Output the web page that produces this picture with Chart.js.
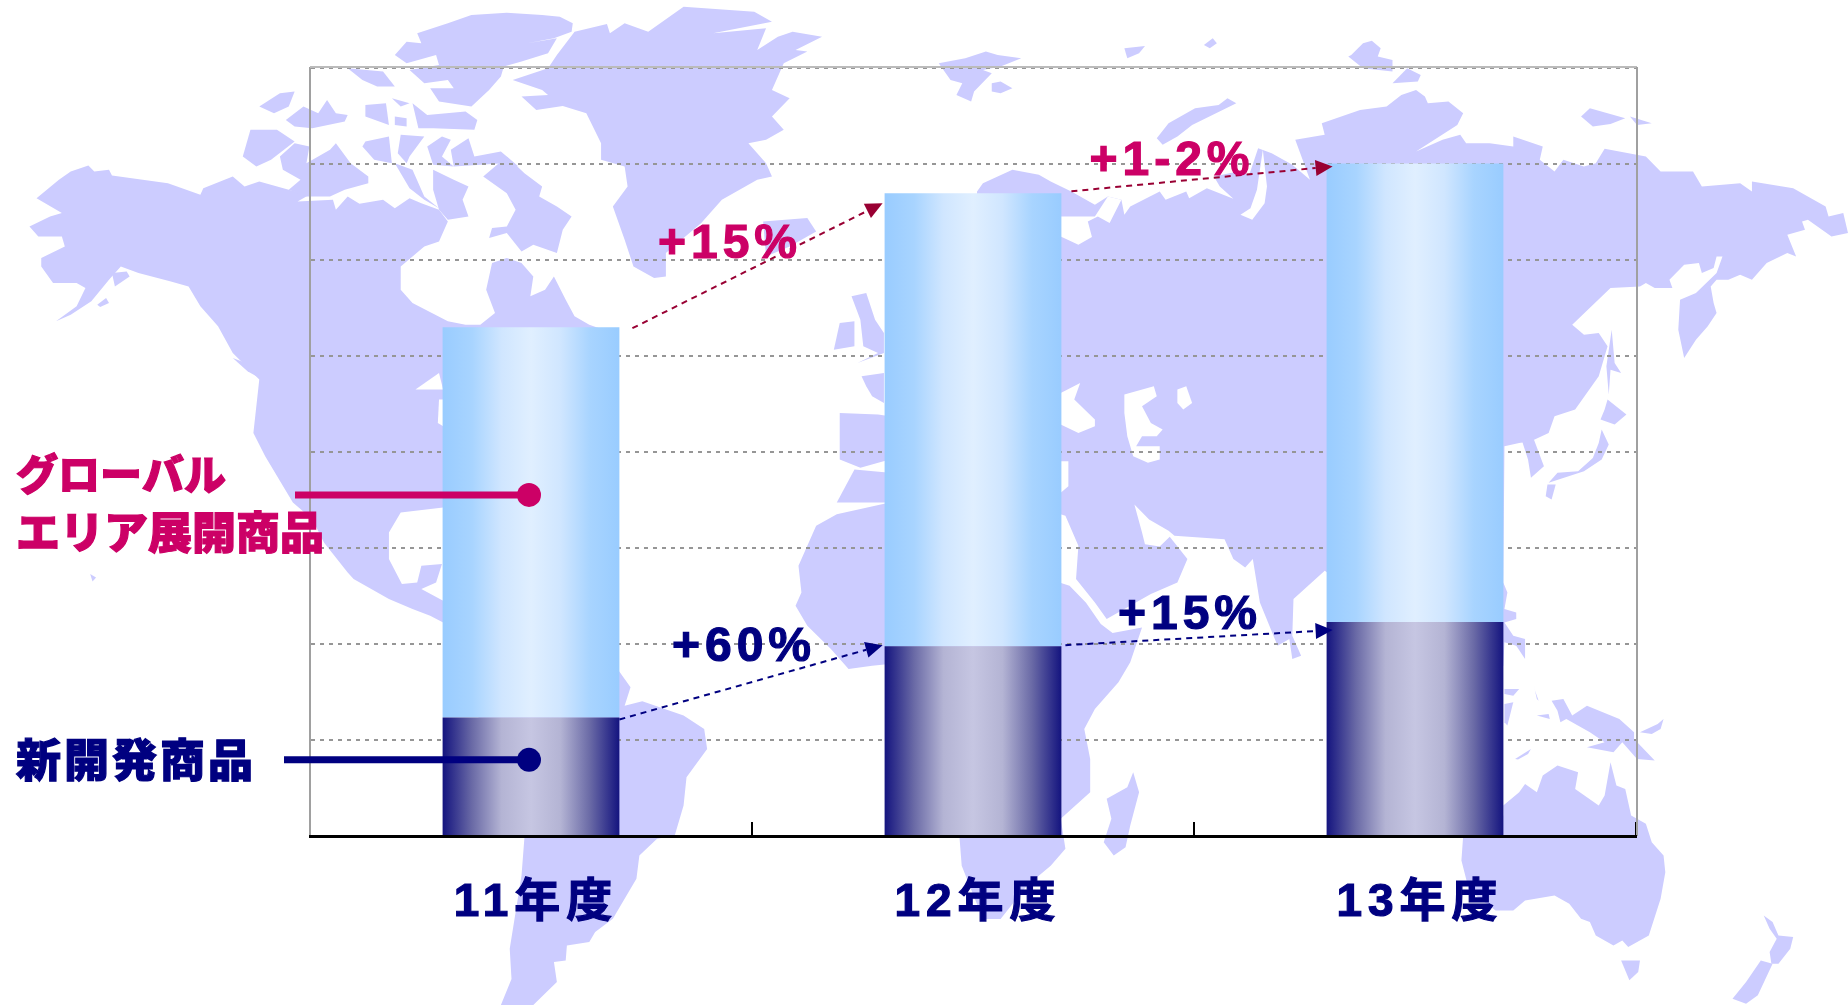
<!DOCTYPE html>
<html>
<head>
<meta charset="utf-8">
<script src="https://cdn.jsdelivr.net/npm/chart.js@4"></script>
<style>
html, body { margin: 0; padding: 0; background: #fff; }
canvas { display: block; }
</style>
</head>
<body>
<canvas id="chart" width="1848" height="1005"></canvas>
<script>
var categories = ["11年度", "12年度", "13年度"];
var newProducts = [126, 200, 225];
var globalProducts = [405, 470, 476];
var gridMin = 3;
var gridMax = 800;
var gridStep = 100;
var calloutValues = [357, 82];
var calloutLabels = [["グローバル", "エリア展開商品"], ["新開発商品"]];
var globalGrowth = ["+15%", "+1-2%"];
var newGrowth = ["+60%", "+15%"];

// world map backdrop, traced in a 3136x3018 grid that is stretched onto the page
var land = [
  // north america
  [62,595,100,540,120,515,150,497,160,515,185,510,190,527,285,550,340,585,345,565,395,530,415,560,440,545,490,570,525,585,505,605,565,600,570,630,590,590,610,612,650,600,670,625,695,595,715,610,745,630,760,665,745,725,720,740,680,800,680,870,700,910,760,965,790,975,815,975,840,940,825,870,835,790,860,775,885,790,905,830,900,890,925,870,940,830,960,900,975,950,1000,975,1040,1000,1040,1300,900,1400,752,1524,680,1539,660,1599,660,1679,682,1754,708,1749,715,1699,750,1694,740,1749,715,1769,752,1804,752,1869,730,1849,700,1829,660,1799,600,1739,590,1719,550,1630,530,1559,497,1509,450,1370,430,1300,440,1140,395,1060,370,980,340,920,320,860,290,845,235,820,205,800,185,840,155,905,120,945,95,965,130,920,145,865,130,850,90,850,70,800,70,775,110,740,105,710,65,710,50,680,85,650,105,640],
  // arctic islands
  [425,390,470,390,500,425,460,480,435,500,412,470],
  [475,470,500,430,525,440,520,490,560,450,570,430,595,490,625,530,625,550,585,570,560,590,520,590,490,570,510,540,480,510],
  [620,425,660,410,665,490,635,480,615,440],
  [680,405,720,410,695,470,690,490,675,460],
  [725,440,750,410,765,420,750,470,770,500,735,495],
  [765,450,795,415,805,470,850,455,880,500,855,490,770,500],
  [670,490,700,510,720,590,745,625,720,600,695,565],
  [735,510,770,540,795,560,785,600,795,650,760,660,745,630,735,570],
  [820,530,860,470,890,520,920,560,915,590,945,620,970,650,955,690,945,760,905,735,885,755,860,700,830,715,835,685,860,680,875,630,860,580],
  [670,165,690,125,715,130,708,100,760,70,800,45,860,38,920,45,950,50,972,70,970,95,940,115,895,130,945,115,930,160,885,185,855,200,850,230,830,270,800,320,745,305,730,265,770,265,760,240,720,250,695,210,745,195,740,165,690,190],
  [590,205,650,215,670,260,640,260,615,240],
  [620,315,655,310,660,375,620,350],
  [665,295,695,310,680,320],
  [700,310,725,345,790,335,810,360,805,390,735,385,710,385],
  [670,350,690,355,690,380,670,375],
  [515,320,540,340,555,300,570,340,590,345,585,365,530,385,500,380,485,360],
  [440,320,475,280,500,275,490,320,465,340],
  [165,915,180,895,185,910,170,922],
  [395,1075,425,1095,445,1140,420,1115],
  [190,820,215,815,220,830,195,860],
  [153,1724,163,1734,157,1746],
  // greenland, iceland, britain, ireland
  [870,240,930,205,945,165,975,95,1030,72,1035,100,1060,70,1100,95,1160,20,1280,35,1310,65,1210,100,1300,85,1285,150,1320,110,1345,95,1395,110,1350,150,1370,155,1330,190,1310,270,1340,295,1310,350,1330,390,1300,420,1270,430,1300,490,1310,530,1285,540,1225,600,1190,670,1130,760,1130,830,1110,835,1075,800,1060,720,1040,620,1065,560,1060,500,1020,480,1020,430,995,340,955,318,910,330,885,290,930,285,920,270],
  [1295,665,1370,655,1385,695,1340,740,1300,770],
  [1445,890,1470,880,1485,960,1500,1000,1500,1060,1455,1090,1490,1060,1465,1040,1460,960],
  [1425,970,1450,965,1450,1040,1415,1050],
  // europe left of the middle bar
  [1462,1130,1500,1120,1500,1210,1480,1190,1470,1160],
  [1425,1240,1490,1245,1510,1250,1510,1380,1460,1405,1425,1380],
  [1450,1410,1510,1420,1510,1509,1420,1509],
  // eurasia
  [1658,575,1668,550,1718,510,1763,525,1783,545,1818,575,1858,615,1880,590,1903,600,1908,645,1918,620,1968,575,1978,600,2013,575,2018,595,2048,565,2093,597,2070,560,2060,530,2100,515,2120,525,2135,445,2158,460,2193,495,2223,540,2198,420,2248,405,2243,370,2308,330,2353,320,2378,285,2403,270,2418,290,2423,310,2458,305,2483,340,2473,375,2403,455,2448,420,2478,405,2488,430,2528,430,2568,440,2568,410,2618,440,2613,480,2638,515,2653,480,2688,500,2708,490,2723,447,2793,470,2818,515,2873,515,2888,560,2953,550,2973,575,2973,545,3043,565,3098,620,3103,650,3128,640,3136,700,3108,710,3068,660,3058,665,3063,690,3033,705,3048,770,3033,760,2998,790,2973,840,2953,825,2933,840,2913,840,2903,860,2908,910,2913,940,2898,980,2878,1020,2858,1075,2848,990,2851,900,2878,880,2913,820,2923,770,2913,770,2908,805,2888,820,2883,790,2858,795,2833,840,2838,865,2808,865,2793,850,2783,860,2733,865,2668,975,2688,1005,2713,1000,2728,1040,2713,1130,2673,1230,2638,1250,2628,1300,2598,1325,2578,1330,2553,1340,2551,1749,2558,1779,2553,1829,2573,1839,2573,1859,2553,1869,2568,1909,2588,1919,2588,1979,2573,1939,2553,1929,2551,2000,2400,1900,2248,1714,2195,1799,2193,1909,2208,1969,2193,1979,2188,1919,2168,1939,2138,1809,2126,1679,2113,1704,2093,1679,2078,1619,1993,1609,1983,1594,1950,1560,1925,1515,1938,1599,1943,1634,1968,1641,1985,1612,2015,1679,1998,1749,1953,1784,1878,1859,1858,1809,1826,1739,1830,1639,1808,1549,1790,1539,1700,1300,1700,800,1658,600],
  // africa
  [1510,1509,1420,1544,1385,1579,1355,1699,1360,1779,1350,1819,1370,1879,1410,1949,1440,2009,1480,1999,1530,1990,1628,2509,1632,2600,1668,2760,1698,2760,1743,2659,1783,2600,1808,2549,1800,2459,1850,2379,1850,2279,1840,2189,1858,2129,1898,2049,1918,1989,1938,1884,1888,1901,1868,1874,1843,1810,1815,1759,1790,1745,1790,1509],
  [1923,2319,1933,2379,1918,2479,1910,2544,1890,2569,1873,2529,1886,2459,1878,2399,1913,2364],
  // south america
  [1050,2014,1070,2064,1060,2119,1090,2106,1160,2149,1195,2189,1200,2249,1165,2334,1160,2419,1145,2509,1115,2519,1085,2569,1080,2639,1040,2759,1010,2799,1000,2829,962,2839,960,2884,940,2889,945,2949,905,3018,850,3018,868,2940,865,2849,885,2629,890,2514,800,2100,1000,2000],
  // arctic russia
  [1983,370,2028,325,2068,315,2083,295,2098,310,2023,375,1998,410,1973,435,1963,415],
  [1593,190,1638,175,1673,155,1693,165,1733,175,1698,200,1668,210,1683,220,1653,275,1648,305,1623,285,1633,250,1613,240],
  [1683,250,1698,245,1718,265,1698,280,1683,275],
  [1908,145,1943,138,1933,160,1913,175],
  [2043,135,2058,115,2065,130,2053,145],
  [2293,165,2313,130,2328,122,2343,145,2338,170,2363,180,2363,215,2313,205,2288,170],
  [2363,250,2388,205,2411,225,2406,245],
  [2683,350,2698,325,2758,355,2733,372,2703,380],
  [2766,350,2803,370,2778,375],
  // far east
  [2735,990,2740,1090,2751,1120,2733,1110,2730,1185,2726,1100],
  [2728,1200,2760,1245,2740,1275,2716,1260,2723,1230],
  [2718,1290,2730,1335,2718,1380,2688,1415,2628,1450,2643,1420,2678,1415,2703,1375,2713,1330],
  [2626,1455,2640,1455,2633,1500,2623,1490],
  [2583,1325,2603,1320,2620,1400,2598,1435,2593,1380],
  // south east asia and oceania
  [2553,2069,2578,2069,2568,2089,2553,2084],
  [2603,2059,2608,2099,2611,2104,2605,2074],
  [2553,2114,2568,2109,2558,2179,2553,2169],
  [2633,2104,2653,2099,2668,2149,2693,2119,2748,2159,2773,2199,2773,2219,2808,2284,2778,2279,2753,2229,2738,2259,2693,2244,2723,2229,2698,2199,2658,2159,2648,2169,2643,2134],
  [2608,2149,2628,2144,2630,2159],
  [2571,2279,2598,2249,2593,2264,2576,2281],
  [2783,2199,2813,2174,2823,2159,2818,2189,2803,2204],
  // australia, tasmania, new zealand
  [2551,2419,2578,2379,2588,2354,2608,2379,2618,2329,2643,2299,2678,2319,2673,2369,2713,2419,2723,2389,2733,2289,2743,2359,2758,2369,2768,2449,2793,2474,2803,2529,2823,2569,2826,2619,2818,2699,2798,2809,2763,2844,2753,2824,2738,2839,2708,2809,2698,2769,2683,2759,2663,2714,2638,2689,2588,2704,2568,2734,2538,2734,2493,2674,2480,2584,2483,2509,2551,2449],
  [2751,2884,2783,2884,2780,2919,2765,2944],
  [2993,2749,3008,2769,3018,2809,3043,2814,3038,2849,3018,2894,3006,2894,3003,2859,3015,2819,3003,2789],
  [2988,2884,3008,2894,2983,2989,2963,3014,2940,2999,2963,2949]
];
var water = [
  [705,1170,745,1120,752,1170],
  [745,1200,752,1200,752,1280,743,1270],
  [1800,1180,1833,1150,1823,1200,1858,1260,1858,1280,1830,1300,1800,1275],
  [1908,1185,1958,1160,1963,1190,1938,1220,1953,1270,1973,1290,1963,1310,1938,1310,1928,1340,1968,1340,1968,1380,1948,1390,1923,1370,1913,1310,1908,1240],
  [1998,1170,2013,1160,2023,1210,2008,1230,1998,1210],
  [1800,1385,1813,1385,1813,1460,1800,1480],
  [1800,650,1858,650,1880,590,1903,600,1883,670,1863,650,1846,665,1853,712,1830,735,1800,710],
  [2143,450,2150,560,2146,610,2125,660,2105,645,2122,625,2133,570]
];

var baseFont = '"Liberation Sans", "Noto Sans CJK JP", sans-serif';
var navy = "#000080";
var pink = "#CC0066";
var darkPink = "#990033";
var navyStops = ["#14147F", "#6A6AA6", "#B4B4D4", "#C6C6E2", "#B4B4D4", "#6A6AA6", "#14147F"];
var blueStops = ["#99CCFF", "#A8D4FF", "#D0E6FF", "#E0EFFF", "#D0E6FF", "#A8D4FF", "#99CCFF"];

function fillShapes(ctx, shapes, color) {
  var sx = 1848 / 3136, sy = 1005 / 3018;
  ctx.fillStyle = color;
  shapes.forEach(function(s) {
    ctx.beginPath();
    ctx.moveTo(s[0] * sx, s[1] * sy);
    for (var i = 2; i < s.length; i += 2) ctx.lineTo(s[i] * sx, s[i + 1] * sy);
    ctx.closePath();
    ctx.fill();
  });
}

function barGradient(chart, index, stops) {
  var xs = chart.scales.x;
  if (!xs || !chart.chartArea) return stops[0];
  var half = xs.width / categories.length * 0.2;
  var mid = xs.getPixelForValue(index);
  var g = chart.ctx.createLinearGradient(mid - half, 0, mid + half, 0);
  stops.forEach(function(c, i) { g.addColorStop(i / (stops.length - 1), c); });
  return g;
}

function drawText(ctx, text, x, y, color, size, spacing, align, weight) {
  ctx.save();
  ctx.font = (weight || "bold") + " " + size + "px " + baseFont;
  ctx.letterSpacing = spacing + "px";
  ctx.fillStyle = color;
  ctx.strokeStyle = color;
  ctx.lineWidth = 1.2;
  ctx.textAlign = align;
  ctx.textBaseline = "middle";
  ctx.strokeText(text, x, y);
  ctx.fillText(text, x, y);
  ctx.restore();
}

function drawArrow(ctx, x1, y1, x2, y2, color) {
  var a = Math.atan2(y2 - y1, x2 - x1);
  var len = 17, wing = 8;
  ctx.save();
  ctx.strokeStyle = color;
  ctx.fillStyle = color;
  ctx.lineWidth = 2;
  ctx.setLineDash([6, 5]);
  ctx.beginPath();
  ctx.moveTo(x1, y1);
  ctx.lineTo(x2 - Math.cos(a) * len, y2 - Math.sin(a) * len);
  ctx.stroke();
  ctx.setLineDash([]);
  ctx.beginPath();
  ctx.moveTo(x2, y2);
  ctx.lineTo(x2 - Math.cos(a) * len - Math.sin(a) * wing, y2 - Math.sin(a) * len + Math.cos(a) * wing);
  ctx.lineTo(x2 - Math.cos(a) * len + Math.sin(a) * wing, y2 - Math.sin(a) * len - Math.cos(a) * wing);
  ctx.closePath();
  ctx.fill();
  ctx.restore();
}

var mapPlugin = {
  id: "worldMap",
  beforeDraw: function(chart) {
    fillShapes(chart.ctx, land, "#CCCCFF");
    fillShapes(chart.ctx, water, "#FFFFFF");
    chart.ctx.letterSpacing = "6px";
  }
};

var notesPlugin = {
  id: "notes",
  beforeDatasetsDraw: function(chart) {
    var ctx = chart.ctx, a = chart.chartArea;
    ctx.letterSpacing = "0px";
    ctx.save();
    ctx.strokeStyle = "#BBBBBB";
    ctx.lineWidth = 2;
    ctx.beginPath();
    ctx.moveTo(a.left, a.top - 1);
    ctx.lineTo(a.right + 1, a.top - 1);
    ctx.stroke();
    ctx.strokeStyle = "#A0A0A0";
    ctx.beginPath();
    ctx.moveTo(a.right + 1, a.top - 1);
    ctx.lineTo(a.right + 1, a.bottom);
    ctx.stroke();
    ctx.restore();
  },
  afterDatasetsDraw: function(chart) {
    var ctx = chart.ctx;
    var low = chart.getDatasetMeta(0).data;
    var high = chart.getDatasetMeta(1).data;
    var ys = chart.scales.y;
    var edge = function(bar, side) { return bar.x + side * bar.width / 2; };

    // growth arrows run from one bar to the next
    drawArrow(ctx, edge(high[0], 1) + 13, high[0].y + 1, edge(high[1], -1) - 2, high[1].y + 10, darkPink);
    drawArrow(ctx, edge(high[1], 1) + 10, high[1].y - 2, edge(high[2], -1) + 6, high[2].y + 3, darkPink);
    drawArrow(ctx, edge(low[0], 1), low[0].y + 2, edge(low[1], -1) - 2, low[1].y - 1, navy);
    drawArrow(ctx, edge(low[1], 1) + 4, low[1].y - 1, edge(low[2], -1) + 6, low[2].y + 8, navy);

    drawText(ctx, globalGrowth[0], 730, 245, pink, 48, 5, "center");
    drawText(ctx, globalGrowth[1], 1172, 162, pink, 48, 5, "center");
    drawText(ctx, newGrowth[0], 744, 648, navy, 48, 5, "center");
    drawText(ctx, newGrowth[1], 1190, 616, navy, 48, 5, "center");

    // callouts into the first bar
    [[295, pink], [284, navy]].forEach(function(c, i) {
      var y = ys.getPixelForValue(calloutValues[i]);
      ctx.save();
      ctx.strokeStyle = c[1];
      ctx.fillStyle = c[1];
      ctx.lineWidth = 7;
      ctx.beginPath();
      ctx.moveTo(c[0], y);
      ctx.lineTo(high[0].x, y);
      ctx.stroke();
      ctx.beginPath();
      ctx.arc(high[0].x - 2, y, 12, 0, Math.PI * 2);
      ctx.fill();
      ctx.restore();
    });

    drawText(ctx, calloutLabels[0][0], 16, 478, pink, 42, 0, "left", "900");
    drawText(ctx, calloutLabels[0][1], 16, 537, pink, 44, 0, "left", "900");
    drawText(ctx, calloutLabels[1][0], 16, 765, navy, 45, 3, "left", "900");
  }
};

var chart1 = new Chart(document.getElementById("chart"), {
  type: "bar",
  plugins: [mapPlugin, notesPlugin],
  data: {
    labels: categories,
    datasets: [
      {
        label: "新開発商品",
        data: newProducts,
        backgroundColor: function(c) { return barGradient(c.chart, c.dataIndex, navyStops); }
      },
      {
        label: "グローバルエリア展開商品",
        data: globalProducts,
        backgroundColor: function(c) { return barGradient(c.chart, c.dataIndex, blueStops); }
      }
    ]
  },
  options: {
    responsive: false,
    animation: false,
    events: [],
    devicePixelRatio: 1,
    layout: { padding: { left: 310, right: 212, top: 68, bottom: 0 } },
    datasets: { bar: { categoryPercentage: 1, barPercentage: 0.4 } },
    plugins: { legend: { display: false }, tooltip: { enabled: false } },
    scales: {
      x: {
        stacked: true,
        afterFit: function(s) { s.height = 169; },
        border: { color: "#000000", width: 3, z: 1 },
        grid: { drawOnChartArea: false, color: "#000000", lineWidth: 2, tickLength: -14, tickColor: "#000000" },
        ticks: {
          color: navy,
          padding: 54,
          autoSkip: false,
          maxRotation: 0,
          labelOffset: 5,
          textStrokeColor: navy,
          textStrokeWidth: 1.2,
          font: { family: baseFont, size: 46, weight: "bold" }
        }
      },
      y: {
        stacked: true,
        min: gridMin,
        max: gridMax,
        afterFit: function(s) { s.width = 0; },
        border: { color: "#A0A0A0", width: 2, dash: [4, 5] },
        grid: { color: "#969696", lineWidth: 2, drawTicks: false },
        ticks: { display: false, stepSize: gridStep }
      }
    }
  }
});
</script>
</body>
</html>
